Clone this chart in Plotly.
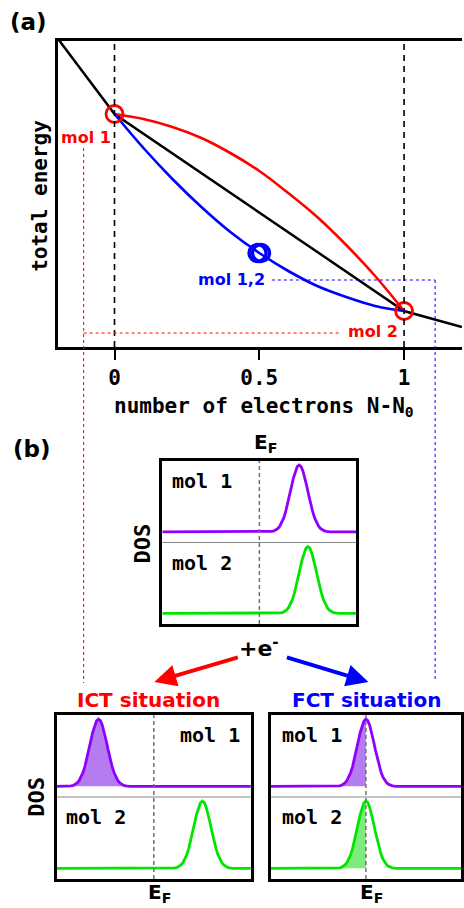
import plotly.graph_objects as go

# ---------------- data ----------------
# panel (a): total energy (arbitrary units) vs number of electrons
N_EXACT = [-0.2, 0.0, 1.0, 1.2]
E_EXACT = [310, 233, 36, 20]

N_CURVE = [0.0, 0.1, 0.2, 0.3, 0.4, 0.5, 0.6, 0.7, 0.8, 0.9, 1.0]
E_ICT = [233, 228, 220, 209, 194, 176, 154, 130, 102, 71, 36]   # red, concave
E_FCT = [233, 199, 168, 140, 115, 94, 76, 61, 50, 41, 36]       # blue, convex

RED_MARK_N = [0.0, 1.0]
RED_MARK_E = [233, 36]
BLUE_MARK_N = [0.494, 0.506]
BLUE_MARK_E = [94, 94]

X_TICKS = [0, 0.5, 1]
X_TICK_TEXT = ["0", "0.5", "1"]

# panel (b): DOS peak positions (E - E_F, box half-width = 1)
MID_CENTERS = [0.41, 0.50]    # mol 1, mol 2 (neutral)
ICT_CENTERS = [-0.57, 0.50]   # ICT situation
FCT_CENTERS = [0.0, 0.0]      # FCT situation
ICT_FILL = ["full", "none"]
FCT_FILL = ["half", "half"]

PEAK_OFFSETS = [-0.32, -0.30, -0.28, -0.26, -0.24, -0.22, -0.20, -0.18, -0.16, -0.14,
                -0.12, -0.10, -0.08, -0.06, -0.04, -0.02, 0.0, 0.02, 0.04, 0.06,
                0.08, 0.10, 0.12, 0.14, 0.16, 0.18, 0.20, 0.22, 0.24, 0.26, 0.28,
                0.30, 0.32]
PEAK_SHAPE = [0.0, 0.004, 0.008, 0.015, 0.029, 0.050, 0.085, 0.135, 0.206, 0.298,
              0.411, 0.539, 0.674, 0.801, 0.906, 0.976, 1.0, 0.976, 0.906, 0.801,
              0.674, 0.539, 0.411, 0.298, 0.206, 0.135, 0.085, 0.050, 0.029, 0.015,
              0.008, 0.004, 0.0]
PEAK_HEIGHT = 0.82
BASELINE = 0.13

# ---------------- styling / geometry ----------------
W, H = 464, 908
MONO = "DejaVu Sans Mono"
SANS = "DejaVu Sans"
PURPLE = "#8f00ff"
PURPLE_FILL = "#b57cf2"
GREEN = "#00e600"
GREEN_FILL = "#7ced7c"
COLORS = [PURPLE, GREEN]
FILLS = [PURPLE_FILL, GREEN_FILL]


def px(x):
    return x / W


def py(y):
    return 1 - y / H


fig = go.Figure()

# ---------------- panel (a) ----------------
fig.add_trace(go.Scatter(x=N_EXACT, y=E_EXACT, mode="lines",
                         line=dict(color="black", width=2.5),
                         xaxis="x", yaxis="y", showlegend=False))
fig.add_trace(go.Scatter(x=N_CURVE, y=E_ICT, mode="lines",
                         line=dict(color="#ff0000", width=2.6, shape="spline"),
                         xaxis="x", yaxis="y", showlegend=False))
fig.add_trace(go.Scatter(x=N_CURVE, y=E_FCT, mode="lines",
                         line=dict(color="#0000ff", width=2.6, shape="spline"),
                         xaxis="x", yaxis="y", showlegend=False))
fig.add_trace(go.Scatter(x=RED_MARK_N, y=RED_MARK_E, mode="markers",
                         marker=dict(symbol="circle-open", size=17, color="#ff0000",
                                     line=dict(width=2.8, color="#ff0000")),
                         xaxis="x", yaxis="y", showlegend=False, cliponaxis=False))
fig.add_trace(go.Scatter(x=BLUE_MARK_N, y=BLUE_MARK_E, mode="markers",
                         marker=dict(symbol="circle-open", size=17, color="#0000ff",
                                     line=dict(width=3.4, color="#0000ff")),
                         xaxis="x", yaxis="y", showlegend=False))

axis_common = dict(showgrid=False, zeroline=False, showline=True,
                   linecolor="black")

layout = dict(
    width=W, height=H,
    margin=dict(l=0, r=0, t=0, b=0),
    paper_bgcolor="white", plot_bgcolor="white",
    showlegend=False,
    xaxis=dict(domain=[px(58), 1.0], range=[-0.196, 1.2], anchor="y",
               tickvals=X_TICKS, ticktext=X_TICK_TEXT, ticks="outside",
               ticklen=10, tickwidth=2, tickcolor="black", mirror=True,
               linewidth=3, ticklabelstandoff=0,
               tickfont=dict(family=MONO, size=21, color="black", weight="bold"),
               **axis_common),
    yaxis=dict(domain=[py(347), py(41)], range=[0, 306], anchor="x",
               showticklabels=False, ticks="", linewidth=3, **axis_common),
)

shapes = []
annotations = []

# dashed verticals at N-N0 = 0 and 1
for xv in [0, 1]:
    shapes.append(dict(type="line", xref="x", yref="y domain", x0=xv, x1=xv,
                       y0=0, y1=1, line=dict(color="black", width=1.6, dash="6px,5px")))

# ---------------- panel (b) DOS boxes ----------------
boxes = [
    (163, 358, 461, 624, MID_CENTERS, ["none", "none"]),
    (57, 252, 715, 879, ICT_CENTERS, ICT_FILL),
    (272, 463, 715, 879, FCT_CENTERS, FCT_FILL),
]

for i, (l, r, t, b, centers, fills) in enumerate(boxes):
    k = i + 2
    xa, ya = f"x{k}", f"y{k}"
    layout[f"xaxis{k}"] = dict(domain=[px(l), px(r)], range=[-1, 1], anchor=ya,
                               mirror=True, linewidth=3, ticks="",
                               showticklabels=False, **axis_common)
    layout[f"yaxis{k}"] = dict(domain=[py(b), py(t)], range=[0, 2], anchor=xa,
                               mirror=True, linewidth=3, ticks="",
                               showticklabels=False, **axis_common)
    # divider between mol 1 and mol 2
    shapes.append(dict(type="line", xref=f"{xa} domain", yref=ya, x0=0, x1=1,
                       y0=1, y1=1, line=dict(color="#888888", width=1)))
    # Fermi level
    shapes.append(dict(type="line", xref=xa, yref=f"{ya} domain", x0=0, x1=0,
                       y0=0, y1=1, line=dict(color="#707070", width=1.5, dash="4px,3px")))
    for j, c in enumerate(centers):
        base = BASELINE + (1 if j == 0 else 0)
        xs = [c + d for d in PEAK_OFFSETS]
        ys = [base + PEAK_HEIGHT * h for h in PEAK_SHAPE]
        if fills[j] == "full":
            fig.add_trace(go.Scatter(x=xs, y=ys, mode="lines", fill="toself",
                                     fillcolor=FILLS[j], line=dict(width=0),
                                     xaxis=xa, yaxis=ya, showlegend=False))
        elif fills[j] == "half":
            hx = [c + d for d in PEAK_OFFSETS if d <= 0] + [c]
            hy = [base + PEAK_HEIGHT * h for d, h in zip(PEAK_OFFSETS, PEAK_SHAPE) if d <= 0] + [base]
            fig.add_trace(go.Scatter(x=hx, y=hy, mode="lines", fill="toself",
                                     fillcolor=FILLS[j], line=dict(width=0),
                                     xaxis=xa, yaxis=ya, showlegend=False))
        fig.add_trace(go.Scatter(x=[-1] + xs + [1], y=[base] + ys + [base],
                                 mode="lines", line=dict(color=COLORS[j], width=2.8),
                                 xaxis=xa, yaxis=ya, showlegend=False))

# ---------------- guide lines (dotted) ----------------
red_dot = dict(color="#ff0000", width=1, dash="dot")
blue_dot = dict(color="#0000ff", width=1, dash="dot")
shapes += [
    dict(type="line", xref="paper", yref="paper", x0=px(84), x1=px(84),
         y0=py(148), y1=py(683), line=red_dot),
    dict(type="line", xref="paper", yref="paper", x0=px(84), x1=px(343),
         y0=py(333), y1=py(333), line=red_dot),
    dict(type="line", xref="paper", yref="paper", x0=px(273), x1=px(437),
         y0=py(280), y1=py(280), line=blue_dot),
    dict(type="line", xref="paper", yref="paper", x0=px(437), x1=px(437),
         y0=py(280), y1=py(682), line=blue_dot),
]


def txt(x, y, s, family, size, color="black", angle=0):
    annotations.append(dict(x=px(x), y=py(y), xref="paper", yref="paper",
                            text=s, showarrow=False, textangle=angle,
                            xanchor="center", yanchor="middle",
                            font=dict(family=family, size=size, color=color,
                                      weight="bold")))


txt(29, 22, "(a)", SANS, 23)
txt(32, 449, "(b)", SANS, 23)
txt(265, 407, "number of electrons N-N<sub>0</sub>", MONO, 21)
txt(40, 196, "total energy", MONO, 21, angle=-90)
txt(86, 137, "mol 1", SANS, 16, "#ff0000")
txt(375, 332, "mol 2", SANS, 16, "#ff0000")
txt(232, 280, "mol 1,2", SANS, 16, "#0000ff")

txt(267, 443, "E<sub>F</sub>", SANS, 20)
txt(143, 543, "DOS", MONO, 22, angle=-90)
txt(203, 481, "mol 1", MONO, 20)
txt(203, 563, "mol 2", MONO, 20)

txt(260, 647, "+e<sup>-</sup>", SANS, 22)
txt(149, 700, "ICT situation", SANS, 20, "#ff0000")
txt(368, 700, "FCT situation", SANS, 20, "#0000ff")

txt(36, 797, "DOS", MONO, 22, angle=-90)
txt(211, 735, "mol 1", MONO, 20)
txt(96, 817, "mol 2", MONO, 20)
txt(160, 893, "E<sub>F</sub>", SANS, 20)

txt(313, 735, "mol 1", MONO, 20)
txt(313, 817, "mol 2", MONO, 20)
txt(373, 893, "E<sub>F</sub>", SANS, 20)

# arrows
annotations.append(dict(x=px(155), y=py(682), xref="paper", yref="paper",
                        ax=85, ay=-25, text="", showarrow=True, arrowhead=2,
                        arrowsize=1.1, arrowwidth=4, arrowcolor="#ff0000"))
annotations.append(dict(x=px(370), y=py(682), xref="paper", yref="paper",
                        ax=-83, ay=-25, text="", showarrow=True, arrowhead=2,
                        arrowsize=1.1, arrowwidth=4, arrowcolor="#0000ff"))

layout["shapes"] = shapes
layout["annotations"] = annotations
fig.update_layout(**layout)

fig.write_html("out.html",
               config={"displayModeBar": False},
               post_script="document.body.style.margin='0';"
                           "document.body.style.overflow='hidden';")
